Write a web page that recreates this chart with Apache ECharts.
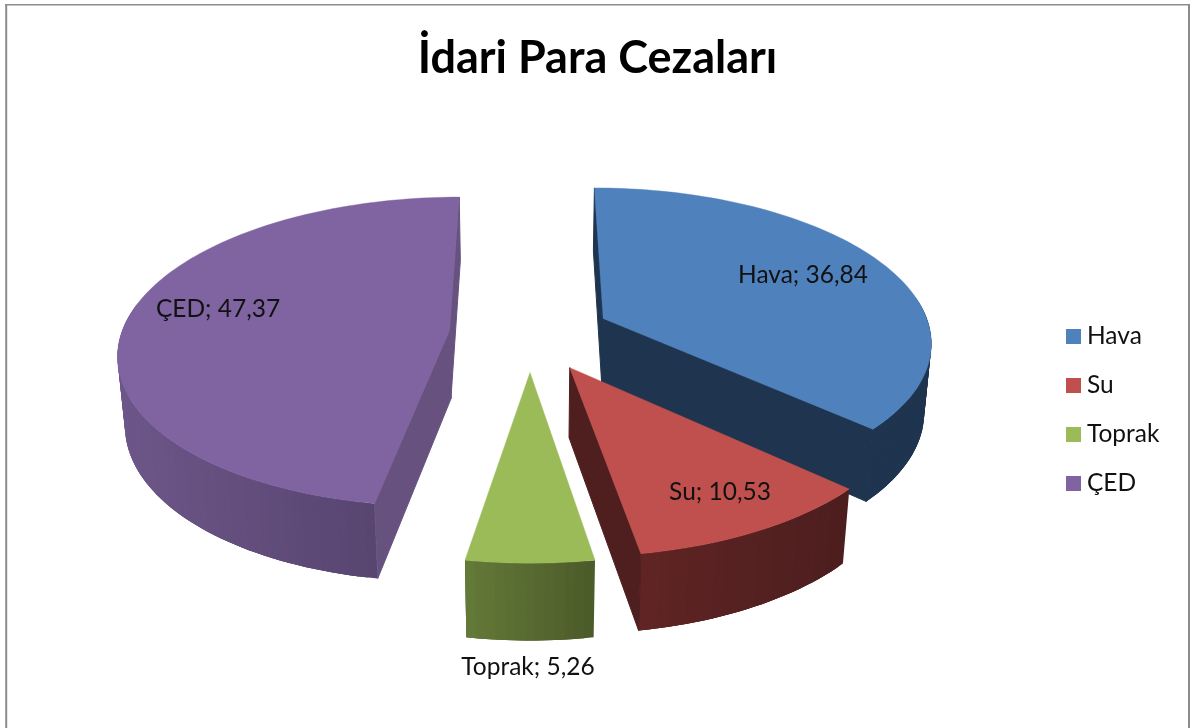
<!DOCTYPE html>
<html><head><meta charset="utf-8">
<style>html,body{margin:0;padding:0;background:#fff}#c{width:1203px;height:728px}</style>
<script src="https://cdn.jsdelivr.net/npm/echarts@6/dist/echarts.min.js"></script>
</head><body><div id="c"></div>
<script>
const categories = ['Hava', 'Su', 'Toprak', 'ÇED'];
const values = [36.84, 10.53, 5.26, 47.37];
const titleText = 'İdari Para Cezaları';

const FONT = 'Lato, "Open Sans", sans-serif';
const topColors = ['#4F81BD', '#C0504D', '#9BBB59', '#8064A2'];
const wallColors = ['#1F344F', '#4F1F1F', '#5F7535', '#67527F'];
const bandStops = [[[31, 52, 79], [31, 52, 79]], [[96, 36, 36], [77, 30, 30]], [[100, 122, 55], [75, 90, 42]], [[109, 86, 137], [81, 63, 103]]];
const labelAt = [[803, 275], [720, 492], [528, 667], [218, 309]];
const drawOrder = [3, 0, 1, 2];

// perspective pie model
const P = { cx: 530, cy: 333.5, S: 328, q: 0.465, p: 0.138, explode: 0.247, vx: 530, vy: 4200 };
function project(X, Y) {
  const w = 1 - P.p * Y;
  return [P.cx + P.S * X / w, P.cy + P.S * P.q * Y / w];
}
function drop(pt) {
  const d = 56 + 0.0377 * pt[1];
  const t = d / (P.vy - pt[1]);
  return [pt[0] + (P.vx - pt[0]) * t, pt[1] + d];
}
const total = values.reduce((a, b) => a + b, 0);
function sliceAngles(i) {
  let before = 0;
  for (let k = 0; k < i; k++) before += values[k];
  return [before / total * 2 * Math.PI, (before + values[i]) / total * 2 * Math.PI];
}
function poly(points, fill, lineWidth) {
  return { type: 'polygon', shape: { points }, style: { fill, stroke: lineWidth ? fill : null, lineWidth: lineWidth || 0 } };
}
function buildSlice(i) {
  const [a0, a1] = sliceAngles(i);
  const mid = (a0 + a1) / 2;
  const ox = P.explode * Math.sin(mid), oy = -P.explode * Math.cos(mid);
  const apex = project(ox, oy);
  const arc = [], angles = [];
  const n = Math.max(4, Math.ceil((a1 - a0) / (Math.PI / 120)));
  for (let k = 0; k <= n; k++) {
    const a = a0 + (a1 - a0) * k / n;
    angles.push(a);
    arc.push(project(ox + Math.sin(a), oy - Math.cos(a)));
  }
  const arcLow = arc.map(drop);
  const apexLow = drop(apex);
  const first = arc[0], last = arc[n];
  const xs = arc.map(p => p[0]);
  const xMin = Math.min(...xs), xMax = Math.max(...xs);
  const children = [];
  // outer band: overlapping quads painted in order, only on the side that faces the viewer
  for (let k = 0; k < n; k++) {
    if (Math.cos(angles[k]) > 0.12 && Math.cos(angles[k + 1]) > 0.12) continue;
    const e = Math.min(k + 3, n);
    const f = ((arc[k][0] + arc[k + 1][0]) / 2 - xMin) / (xMax - xMin);
    const c = bandStops[i][0].map((v, j) => Math.round(v + (bandStops[i][1][j] - v) * f));
    const pts = arc.slice(k, e + 1).concat(arcLow.slice(k, e + 1).reverse());
    children.push(poly(pts, 'rgb(' + c.join(',') + ')'));
  }
  // radial walls: only the ones that face the viewer
  if (-Math.sin(a0) > -1e-6) children.push(poly([apex, first, drop(first), apexLow], wallColors[i], 1));
  if (Math.sin(a1) > -1e-6) children.push(poly([apex, last, drop(last), apexLow], wallColors[i], 1));
  children.push(poly([apex].concat(arc), topColors[i], 0.4));
  children.push({
    type: 'text',
    style: {
      text: categories[i] + '; ' + values[i].toFixed(2).replace('.', ','),
      x: labelAt[i][0], y: labelAt[i][1], align: 'center', verticalAlign: 'middle',
      fill: '#111', font: '24.5px ' + FONT
    }
  });
  return { type: 'group', children };
}
const series = categories.map((name, i) => ({
  type: 'custom', name, coordinateSystem: 'none', silent: true,
  z: 2 + drawOrder.indexOf(i),
  itemStyle: { color: topColors[i] },
  data: [{ name, value: values[i] }],
  renderItem: () => buildSlice(i)
}));
const chart = echarts.init(document.getElementById('c'), null, { renderer: 'canvas' });
const border = '#8C8C8C';
chart.setOption({
  animation: false,
  backgroundColor: '#fff',
  title: {
    text: titleText, left: 592.5, top: 31, textAlign: 'center',
    textStyle: { fontFamily: FONT, fontWeight: 'bold', fontSize: 45, color: '#000' }
  },
  legend: {
    data: categories, orient: 'vertical', left: 1066, top: 324, padding: 0,
    itemWidth: 15, itemHeight: 15, itemGap: 24, icon: 'rect',
    selectedMode: false,
    textStyle: { fontFamily: FONT, fontSize: 24.5, lineHeight: 24, color: '#111', padding: [0, 0, 0, 1] }
  },
  graphic: [
    { type: 'line', shape: { x1: 6.2, y1: 4, x2: 6.2, y2: 728 }, style: { stroke: border, lineWidth: 2 } },
    { type: 'line', shape: { x1: 5, y1: 4.7, x2: 1190, y2: 4.7 }, style: { stroke: border, lineWidth: 1.5 } },
    { type: 'line', shape: { x1: 1189, y1: 4, x2: 1189, y2: 728 }, style: { stroke: border, lineWidth: 2 } }
  ],
  series
});
</script></body></html>
